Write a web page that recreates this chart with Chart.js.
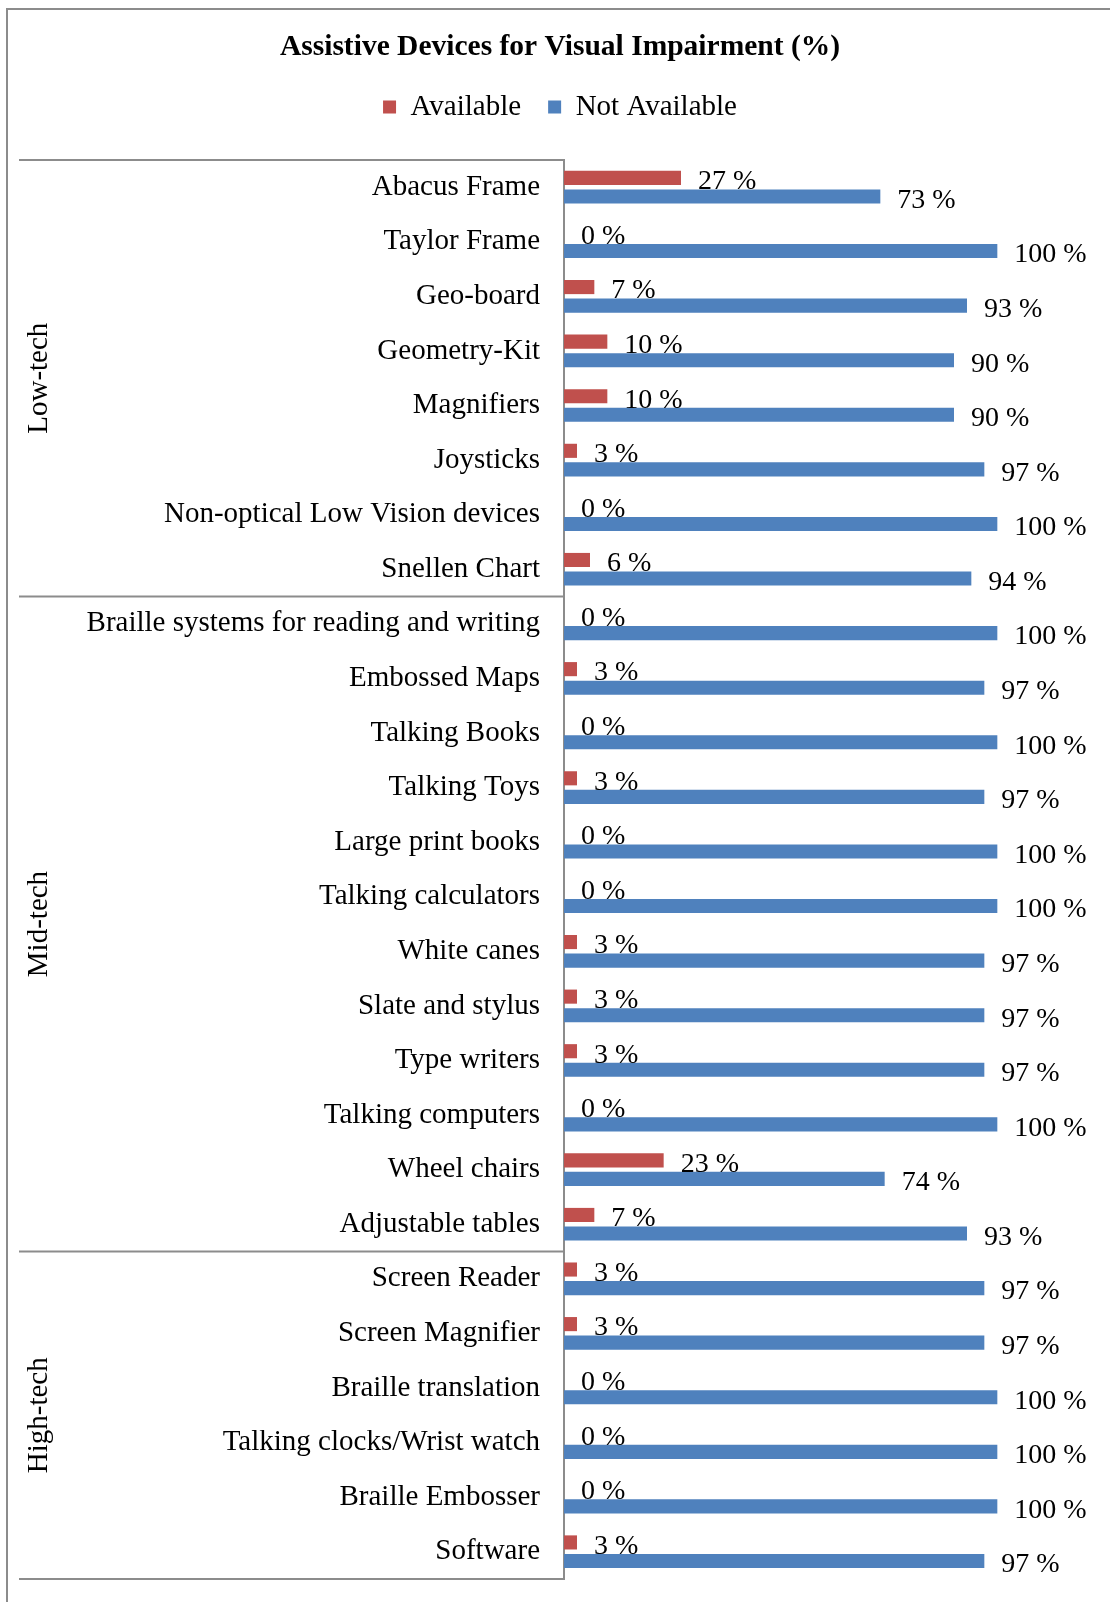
<!DOCTYPE html>
<html>
<head>
<meta charset="utf-8">
<script src="https://cdn.jsdelivr.net/npm/chart.js@4.4.0/dist/chart.umd.min.js"></script>
<style>
  body { margin: 0; background: #fff; }
  #wrap { position: relative; width: 1110px; height: 1602px; }
  #frame { position: absolute; left: 6px; top: 8px; width: 1200px; height: 1700px;
           border-left: 2px solid #8c8c8c; border-top: 2px solid #8c8c8c; }
  canvas { position: absolute; left: 0; top: 0; }
</style>
</head>
<body>
<div id="wrap">
  <div id="frame"></div>
  <canvas id="chart" width="1110" height="1602"></canvas>
</div>
<script>
// Chart data
const devices = [
  "Abacus Frame", "Taylor Frame", "Geo-board", "Geometry-Kit", "Magnifiers", "Joysticks",
  "Non-optical Low Vision devices", "Snellen Chart",
  "Braille systems for reading and writing", "Embossed Maps", "Talking Books", "Talking Toys",
  "Large print books", "Talking calculators", "White canes", "Slate and stylus", "Type writers",
  "Talking computers", "Wheel chairs", "Adjustable tables",
  "Screen Reader", "Screen Magnifier", "Braille translation", "Talking clocks/Wrist watch",
  "Braille Embosser", "Software"
];
const available = [27, 0, 7, 10, 10, 3, 0, 6, 0, 3, 0, 3, 0, 0, 3, 3, 3, 0, 23, 7, 3, 3, 0, 0, 0, 3];
const notAvailable = [73, 100, 93, 90, 90, 97, 100, 94, 100, 97, 100, 97, 100, 100, 97, 97, 97, 100, 74, 93, 97, 97, 100, 100, 100, 97];
// group name, first index, last index
const groups = [
  ["Low-tech", 0, 7],
  ["Mid-tech", 8, 19],
  ["High-tech", 20, 25]
];

const serif = "'Liberation Serif', 'Times New Roman', serif";

// draws group separator lines and rotated group names left of the axis
const groupPlugin = {
  id: 'groups',
  afterDraw(chart) {
    const ctx = chart.ctx;
    const y = chart.scales.y;
    const area = chart.chartArea;
    const step = (area.bottom - area.top) / devices.length;
    ctx.save();
    ctx.strokeStyle = '#8c8c8c';
    ctx.lineWidth = 2;
    const edges = [0];
    groups.forEach(g => edges.push(g[2] + 1));
    edges.forEach(i => {
      const py = area.top + i * step;
      ctx.beginPath();
      ctx.moveTo(19, py);
      ctx.lineTo(area.left, py);
      ctx.stroke();
    });
    ctx.fillStyle = '#000';
    ctx.font = '29px ' + serif;
    ctx.textAlign = 'center';
    ctx.textBaseline = 'middle';
    groups.forEach(g => {
      const cy = (y.getPixelForValue(g[1]) + y.getPixelForValue(g[2])) / 2;
      ctx.save();
      ctx.translate(39, cy);
      ctx.rotate(-Math.PI / 2);
      ctx.fillText(g[0], 0, 0);
      ctx.restore();
    });
    ctx.restore();
  }
};

// value labels after each bar
const valueLabels = {
  id: 'valueLabels',
  afterDatasetsDraw(chart) {
    const ctx = chart.ctx;
    ctx.save();
    ctx.fillStyle = '#000';
    ctx.font = '28px ' + serif;
    ctx.textAlign = 'left';
    ctx.textBaseline = 'middle';
    chart.data.datasets.forEach((ds, di) => {
      chart.getDatasetMeta(di).data.forEach((bar, i) => {
        ctx.fillText(ds.data[i] + ' %', bar.x + 17, bar.y + 4);
      });
    });
    ctx.restore();
  }
};

new Chart(document.getElementById('chart'), {
  type: 'bar',
  data: {
    labels: devices,
    datasets: [
      { label: 'Available', data: available, backgroundColor: '#C0504D' },
      { label: 'Not Available', data: notAvailable, backgroundColor: '#4F81BD' }
    ]
  },
  options: {
    indexAxis: 'y',
    responsive: false,
    animation: false,
    categoryPercentage: 0.68,
    barPercentage: 0.76,
    layout: { padding: { left: 10, right: 0, top: 0, bottom: 23 } },
    plugins: {
      title: {
        display: true,
        text: 'Assistive Devices for Visual Impairment (%)',
        color: '#000',
        font: { family: serif, size: 29.5, weight: 'bold', lineHeight: 1.2 },
        padding: { top: 30, bottom: 0 }
      },
      legend: {
        display: true,
        labels: {
          color: '#000',
          font: { family: serif, size: 29 },
          boxWidth: 13,
          boxHeight: 13,
          padding: 27
        }
      },
      tooltip: { enabled: false }
    },
    scales: {
      x: {
        min: 0,
        max: 126,
        position: 'top',
        grid: { display: false },
        border: { display: false },
        ticks: { display: false },
        afterFit(scale) { scale.height = 28.5; }
      },
      y: {
        grid: { display: false, drawTicks: false },
        border: { display: true, color: '#8c8c8c', width: 2 },
        ticks: {
          autoSkip: false,
          color: '#000',
          padding: 24,
          font: { family: serif, size: 29 }
        },
        afterFit(scale) {
          scale.width = 554;
          scale.paddingTop = 0;
          scale.paddingBottom = 0;
        }
      }
    }
  },
  plugins: [groupPlugin, valueLabels]
});
</script>
</body>
</html>
